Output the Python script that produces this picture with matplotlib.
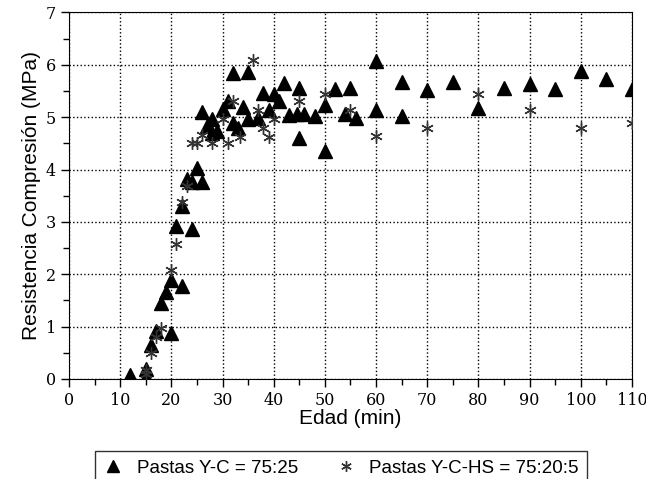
import matplotlib.pyplot as plt
from matplotlib.ticker import MultipleLocator

# Pastas Y-C = 75:25 (triangles)
yc_edad = [12, 15, 15, 16, 17, 18, 19, 20, 20, 21, 22, 22, 23, 24, 24, 25, 26,
           26, 27, 28, 28, 29, 30, 31, 32, 32, 33, 34, 35, 35, 37, 38, 39, 40,
           41, 42, 43, 44.5, 45, 45, 46, 48, 50, 50, 52, 54, 55, 56, 60, 60,
           65, 65, 70, 75, 80, 85, 90, 95, 100, 105, 110]
yc_res = [0.07, 0.04, 0.20, 0.64, 0.92, 1.46, 1.67, 0.88, 1.89, 2.93, 1.77,
          3.30, 3.81, 2.87, 3.77, 4.03, 3.76, 5.10, 4.84, 4.97, 4.70, 4.73,
          5.16, 5.31, 5.85, 4.88, 4.80, 5.19, 5.87, 4.97, 4.98, 5.47, 5.13,
          5.45, 5.31, 5.66, 5.04, 5.07, 5.56, 4.60, 5.07, 5.03, 5.24, 4.36,
          5.54, 5.07, 5.55, 4.99, 6.07, 5.14, 5.67, 5.03, 5.51, 5.67, 5.18,
          5.55, 5.64, 5.53, 5.88, 5.72, 5.53]

# Pastas Y-C-HS = 75:20:5 (asterisks)
hs_edad = [15, 15, 16, 17, 18, 20, 21, 22, 23, 24, 25, 26, 28, 30, 31, 32,
           33.5, 36, 37, 38, 39, 40, 45, 50, 55, 60, 70, 80, 90, 100, 110]
hs_res = [0.10, 0.18, 0.49, 0.81, 0.97, 2.08, 2.57, 3.38, 3.68, 4.50, 4.50,
          4.66, 4.50, 4.97, 4.50, 5.30, 4.63, 6.10, 5.14, 4.79, 4.63, 4.97,
          5.30, 5.45, 5.13, 4.64, 4.80, 5.45, 5.13, 4.80, 4.89]


def main():
	fig = plt.figure(figsize=(6.46, 4.79), dpi=100)
	ax = fig.add_axes([0.1068, 0.2088, 0.8715, 0.7652])

	l1, = ax.plot(yc_edad, yc_res, '^', color='black', markersize=10.5,
	              linestyle='none', label='Pastas Y-C = 75:25', zorder=3)
	l2, = ax.plot(hs_edad, hs_res, marker=(6, 2, 0), color='#333333',
	              markersize=9, markeredgewidth=1.0, linestyle='none',
	              label='Pastas Y-C-HS = 75:20:5', zorder=4)

	ax.set_xlim(0, 110)
	ax.set_ylim(0, 7)
	ax.xaxis.set_major_locator(MultipleLocator(10))
	ax.xaxis.set_minor_locator(MultipleLocator(5))
	ax.yaxis.set_major_locator(MultipleLocator(1))
	ax.yaxis.set_minor_locator(MultipleLocator(0.5))
	ax.tick_params(which='major', direction='out', length=6, width=1,
	               labelsize=11.5)
	ax.tick_params(which='minor', direction='out', length=4, width=1)
	for lab in ax.get_xticklabels() + ax.get_yticklabels():
		lab.set_fontfamily('DejaVu Serif')
	ax.grid(True, which='major', linestyle=':', color='black', linewidth=1)

	ax.set_xlabel('Edad (min)', fontsize=15, family='Liberation Sans',
	              labelpad=0)
	ax.set_ylabel('Resistencia Compresión (MPa)', fontsize=15,
	              family='Liberation Sans', labelpad=3)

	leg = fig.legend(handles=[l1, l2], loc='upper left', ncol=2,
	                 bbox_to_anchor=(86 / 646, 1 - 442 / 479),
	                 prop={'family': 'Liberation Sans', 'size': 13.5},
	                 frameon=True, fancybox=False, edgecolor='black',
	                 borderpad=0.45, columnspacing=2.05, handletextpad=0.75,
	                 handlelength=1.0, markerscale=0.85)
	leg.get_frame().set_linewidth(1)

	fig.savefig('out.png', dpi=100)


if __name__ == "__main__":
	main()
